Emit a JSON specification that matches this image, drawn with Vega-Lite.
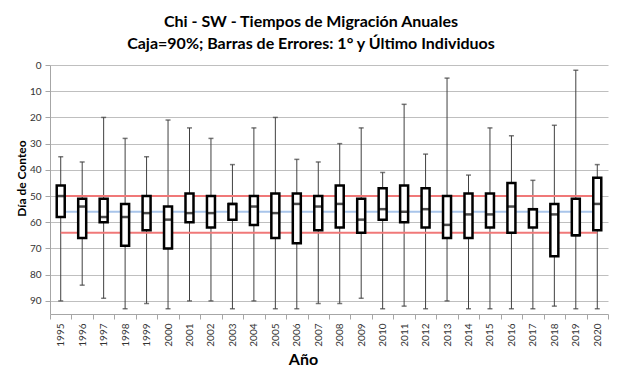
{
  "$schema": "https://vega.github.io/schema/vega-lite/v6.json",
  "width": 558,
  "height": 249,
  "autosize": {"type": "none"},
  "padding": {"left": 50, "top": 65, "right": 13, "bottom": 65},
  "background": "white",
  "config": {
    "font": "Lato",
    "view": {"stroke": null},
    "axis": {"labelFont": "Lato", "titleFont": "Lato"}
  },
  "title": {
    "text": ["Chi - SW - Tiempos de Migración Anuales", "Caja=90%; Barras de Errores: 1° y Último Individuos"],
    "font": "Lato",
    "fontSize": 16,
    "fontWeight": "bold",
    "color": "black",
    "lineHeight": 22,
    "anchor": "middle",
    "dx": -18,
    "offset": 8
  },
  "datasets": {
    "boxes": [
      {"year": "1995", "lo": 35, "q1": 46, "med": 50, "q3": 58, "hi": 90},
      {"year": "1996", "lo": 37, "q1": 51, "med": 54, "q3": 66, "hi": 84},
      {"year": "1997", "lo": 20, "q1": 51, "med": 58, "q3": 60, "hi": 89},
      {"year": "1998", "lo": 28, "q1": 53, "med": 58, "q3": 69, "hi": 93},
      {"year": "1999", "lo": 35, "q1": 50, "med": 56.5, "q3": 63, "hi": 91},
      {"year": "2000", "lo": 21, "q1": 54, "med": 59, "q3": 70, "hi": 93},
      {"year": "2001", "lo": 24, "q1": 49, "med": 56.5, "q3": 60, "hi": 90},
      {"year": "2002", "lo": 28, "q1": 50, "med": 56.5, "q3": 62, "hi": 90},
      {"year": "2003", "lo": 38, "q1": 53, "med": 53, "q3": 59, "hi": 93},
      {"year": "2004", "lo": 24, "q1": 50, "med": 54, "q3": 61, "hi": 90},
      {"year": "2005", "lo": 20, "q1": 49, "med": 56.5, "q3": 66, "hi": 93},
      {"year": "2006", "lo": 36, "q1": 49, "med": 53, "q3": 68, "hi": 93},
      {"year": "2007", "lo": 37, "q1": 50, "med": 54, "q3": 63, "hi": 91},
      {"year": "2008", "lo": 30, "q1": 46, "med": 53, "q3": 62, "hi": 91},
      {"year": "2009", "lo": 24, "q1": 51, "med": 59, "q3": 64, "hi": 89},
      {"year": "2010", "lo": 41, "q1": 47, "med": 55, "q3": 59, "hi": 93},
      {"year": "2011", "lo": 15, "q1": 46, "med": 56, "q3": 60, "hi": 92},
      {"year": "2012", "lo": 34, "q1": 47, "med": 55, "q3": 62, "hi": 93},
      {"year": "2013", "lo": 5, "q1": 50, "med": 61, "q3": 66, "hi": 90},
      {"year": "2014", "lo": 42, "q1": 49, "med": 57, "q3": 66, "hi": 93},
      {"year": "2015", "lo": 24, "q1": 49, "med": 57, "q3": 62, "hi": 93},
      {"year": "2016", "lo": 27, "q1": 45, "med": 54, "q3": 64, "hi": 93},
      {"year": "2017", "lo": 44, "q1": 55, "med": 55, "q3": 62, "hi": 93},
      {"year": "2018", "lo": 23, "q1": 53, "med": 57, "q3": 73, "hi": 92},
      {"year": "2019", "lo": 2, "q1": 51, "med": 65, "q3": 65, "hi": 93},
      {"year": "2020", "lo": 38, "q1": 43, "med": 53, "q3": 63, "hi": 93}
    ],
    "refs": [
      {"year": "1995", "value": 50, "series": "r1"},
      {"year": "2020", "value": 50, "series": "r1"},
      {"year": "1995", "value": 64, "series": "r2"},
      {"year": "2020", "value": 64, "series": "r2"},
      {"year": "1995", "value": 56, "series": "avg"},
      {"year": "2020", "value": 56, "series": "avg"}
    ]
  },
  "encoding": {
    "x": {
      "field": "year",
      "type": "ordinal",
      "sort": null,
      "scale": {"paddingInner": 0, "paddingOuter": 0, "domain": ["1995","1996","1997","1998","1999","2000","2001","2002","2003","2004","2005","2006","2007","2008","2009","2010","2011","2012","2013","2014","2015","2016","2017","2018","2019","2020"]},
      "axis": {
        "title": "Año",
        "titleFontSize": 16,
        "titleFontWeight": "bold",
        "titleColor": "black",
        "titleX": 253,
        "titleY": 50,
        "titleBaseline": "alphabetic",
        "labelAngle": -90,
        "labelFontSize": 10,
        "labelColor": "#333333",
        "labelPadding": 4,
        "labelOverlap": false,
        "tickBand": "extent",
        "tickColor": "#a6a6a6",
        "tickSize": 5,
        "domainColor": "#a6a6a6",
        "grid": false
      }
    }
  },
  "layer": [
    {
      "data": {"name": "boxes"},
      "mark": {"type": "rule", "color": "#404040", "strokeWidth": 1},
      "encoding": {
        "y": {
          "field": "lo",
          "type": "quantitative",
          "scale": {"domain": [0, 95], "reverse": true, "nice": false, "zero": false},
          "axis": {
            "title": "Día de Conteo",
            "titleFontSize": 12,
            "titleFontWeight": "bold",
            "titleColor": "black",
            "titleX": -22,
            "titleY": 113,
            "values": [0, 10, 20, 30, 40, 50, 60, 70, 80, 90],
            "labelOverlap": false,
            "labelFlush": false,
            "labelFontSize": 10,
            "labelColor": "#333333",
            "labelPadding": 4,
            "tickColor": "#a6a6a6",
            "tickSize": 5,
            "domainColor": "#a6a6a6",
            "grid": true,
            "gridColor": "#bfbfbf",
            "gridWidth": 1
          }
        },
        "y2": {"field": "hi"}
      }
    },
    {
      "data": {"name": "boxes"},
      "mark": {"type": "tick", "color": "#404040", "size": 5, "thickness": 1.5},
      "encoding": {"y": {"field": "lo", "type": "quantitative", "axis": {"values": [0, 10, 20, 30, 40, 50, 60, 70, 80, 90], "labelOverlap": false, "labelFlush": false}}}
    },
    {
      "data": {"name": "boxes"},
      "mark": {"type": "tick", "color": "#404040", "size": 5, "thickness": 1.5},
      "encoding": {"y": {"field": "hi", "type": "quantitative", "axis": {"values": [0, 10, 20, 30, 40, 50, 60, 70, 80, 90], "labelOverlap": false, "labelFlush": false}}}
    },
    {
      "data": {"name": "refs"},
      "mark": {"type": "line", "strokeWidth": 2},
      "encoding": {
        "y": {"field": "value", "type": "quantitative", "axis": {"values": [0, 10, 20, 30, 40, 50, 60, 70, 80, 90], "labelOverlap": false, "labelFlush": false}},
        "detail": {"field": "series"},
        "color": {
          "field": "series",
          "type": "nominal",
          "scale": {"domain": ["r1", "r2", "avg"], "range": ["#f07878", "#f07878", "#a9c5ea"]},
          "legend": null
        }
      }
    },
    {
      "data": {"name": "boxes"},
      "mark": {"type": "bar", "size": 8, "fill": "white", "stroke": "black", "strokeWidth": 2.5},
      "encoding": {
        "y": {"field": "q1", "type": "quantitative", "axis": {"values": [0, 10, 20, 30, 40, 50, 60, 70, 80, 90], "labelOverlap": false, "labelFlush": false}},
        "y2": {"field": "q3"}
      }
    },
    {
      "data": {"name": "boxes"},
      "mark": {"type": "tick", "color": "black", "size": 9, "thickness": 2.5},
      "encoding": {"y": {"field": "med", "type": "quantitative", "axis": {"values": [0, 10, 20, 30, 40, 50, 60, 70, 80, 90], "labelOverlap": false, "labelFlush": false}}}
    }
  ]
}
